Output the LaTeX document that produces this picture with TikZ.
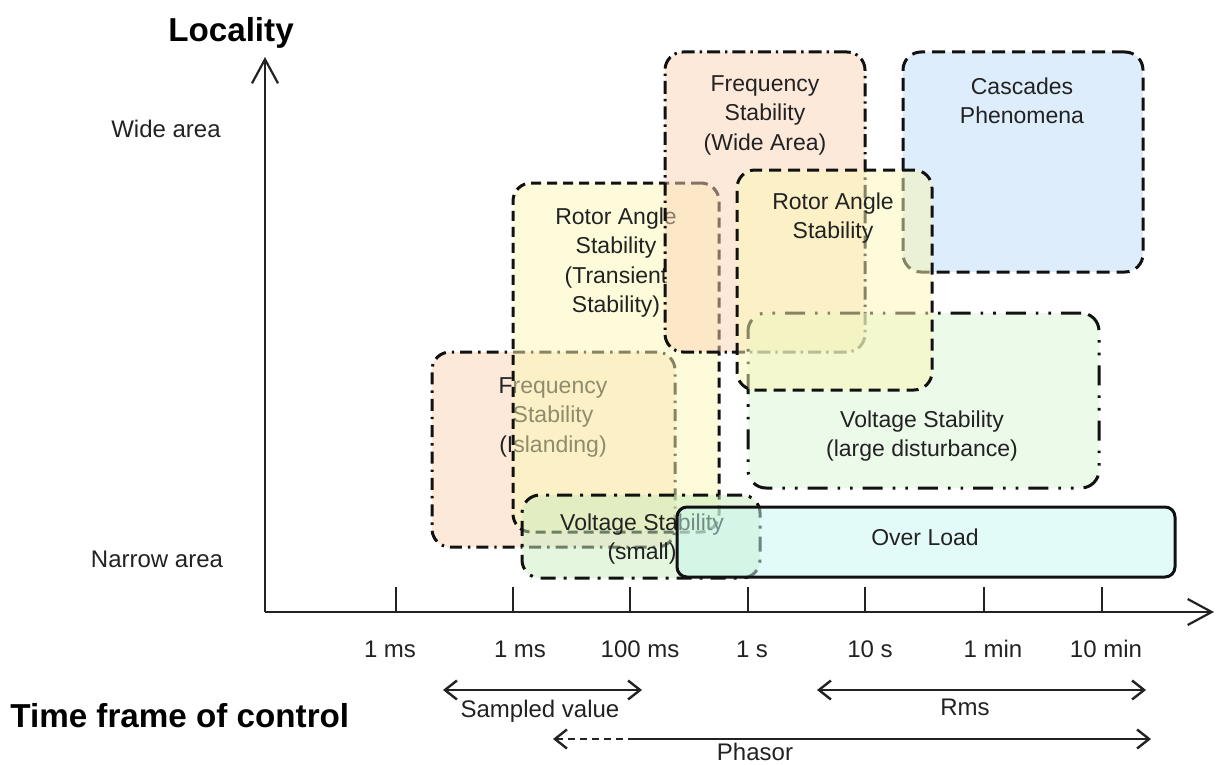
\documentclass[tikz,border=0pt]{standalone}
\usepackage{fontspec}
\setmainfont{Liberation Sans}
\usetikzlibrary{arrows.meta}

\definecolor{inkc}{HTML}{222222}
\definecolor{orangef}{HTML}{FBD3B5}
\definecolor{bluef}{HTML}{BBDBF9}
\definecolor{yellowf}{HTML}{FBF7B3}
\definecolor{greenlf}{HTML}{D9F5D5}
\definecolor{greensf}{HTML}{C9EDBD}
\definecolor{cyanf}{HTML}{C7F7F1}
\definecolor{edgec}{HTML}{111111}

\tikzset{
  region/.style={draw=edgec, line width=1.5pt, rounded corners=9pt,
    inner sep=0pt, outer sep=0pt, fill opacity=0.5, draw opacity=1},
  boxlabel/.style={anchor=north, inner sep=0pt, align=center, text=inkc,
    font=\fontsize{11.5pt}{14.8pt}\selectfont},
  axislabel/.style={anchor=base, inner sep=0pt, text=inkc,
    font=\fontsize{12pt}{14pt}\selectfont},
  title/.style={inner sep=0pt, text=black,
    font=\fontsize{16.6pt}{19pt}\selectfont\bfseries},
  axisline/.style={draw=inkc, line width=1.1pt},
  bigtip/.style={-{Straight Barb[length=12pt,width=13pt,line width=1.1pt]}},
  timearrow/.style={draw=inkc, line width=1.2pt},
  smalltip/.tip={Straight Barb[length=6pt,width=9.5pt,line width=1.2pt]},
}

\begin{document}
\begin{tikzpicture}[x=0.5pt, y=-0.5pt]
\useasboundingbox (0,0) rectangle (1220,765);

% ---------- axes ----------
\coordinate (O) at (265,612);
\coordinate (ytip) at (265,57);
\coordinate (xtip) at (1214,612);
\draw[axisline, bigtip] (O) -- (ytip);
\draw[axisline, bigtip] (O) -- (xtip);
\foreach \tx [count=\i] in {396,513,630,748,865,984,1102}
  \draw[axisline] (\tx,587) coordinate (tk\i) -- (\tx,612);

\node[title, anchor=base] (loc) at (231,42) {Locality};
\node[axislabel] (wide) at (166,137) {Wide area};
\node[axislabel] (narrow) at (157,567) {Narrow area};

\foreach \lx/\lt [count=\i] in {390/1 ms, 520/1 ms, 640/100 ms, 752/1 s,
    870/10 s, 993/1 min, 1106/10 min}
  \node[axislabel] (tl\i) at (\lx,657) {\lt};

% ---------- stability regions (drawn back to front) ----------
\node[region, fill=orangef, dash pattern=on 6pt off 3pt on 1.2pt off 3pt,
  minimum width=121.5pt, minimum height=97.5pt] (isl) at (553.5,449.5) {};
\node[boxlabel] (islT) at (553,377) {Frequency\\Stability\\(Islanding)};

\node[region, fill=yellowf, dash pattern=on 5pt off 3pt,
  minimum width=103pt, minimum height=174.5pt] (trans) at (616,357.5) {};
\node[boxlabel] (transT) at (616,207) {Rotor Angle\\Stability\\(Transient\\Stability)};

\node[region, fill=orangef, dash pattern=on 6.5pt off 2.5pt on 1.2pt off 2.5pt,
  minimum width=100pt, minimum height=150pt] (wa) at (765,202) {};
\node[boxlabel] (waT) at (765,75) {Frequency\\Stability\\(Wide Area)};

\node[region, fill=bluef, dash pattern=on 6.5pt off 3.5pt,
  minimum width=120pt, minimum height=110pt] (casc) at (1023,162) {};
\node[boxlabel] (cascT) at (1022,77) {Cascades\\Phenomena};

\node[region, fill=greenlf,
  dash pattern=on 10pt off 5pt on 1.3pt off 5pt on 1.3pt off 5pt,
  minimum width=175.5pt, minimum height=87.5pt] (vl) at (923.5,400.5) {};
\node[boxlabel] (vlT) at (922,410) {Voltage Stability\\(large disturbance)};

\node[region, fill=yellowf, dash pattern=on 6pt off 3.5pt,
  minimum width=97.5pt, minimum height=110pt] (ra) at (834.5,280) {};
\node[boxlabel] (raT) at (833,192) {Rotor Angle\\Stability};

\node[region, fill=greensf, dash pattern=on 7.5pt off 4pt on 1.5pt off 4pt,
  minimum width=119pt, minimum height=41.5pt] (vs) at (641,536.5) {};
\node[boxlabel] (vsT) at (642,513) {Voltage Stability\\(small)};

\node[region, fill=cyanf, rounded corners=5pt, solid,
  minimum width=249pt, minimum height=35pt] (ol) at (926,542) {};
\node[boxlabel] (olT) at (925,528) {Over Load};

% ---------- time frame of control ----------
\node[title, anchor=base west] (tfc) at (10,727) {Time frame of control};

\coordinate (sv1) at (443,690);
\coordinate (sv2) at (642,690);
\coordinate (rm1) at (817,690);
\coordinate (rm2) at (1146,690);
\coordinate (ph1) at (553,739);
\coordinate (phm) at (633,739);
\coordinate (ph2) at (1151,739);

\draw[timearrow, {smalltip}-{smalltip}] (sv1) -- (sv2);
\draw[timearrow, {smalltip}-{smalltip}] (rm1) -- (rm2);
\draw[timearrow, {smalltip}-, dash pattern=on 3.5pt off 2.5pt] (ph1) -- (phm);
\draw[timearrow, -{smalltip}] (phm) -- (ph2);

\node[axislabel] (svT) at (540,717) {Sampled value};
\node[axislabel] (rmT) at (965,715) {Rms};
\node[axislabel] (phT) at (755,760) {Phasor};
\end{tikzpicture}
\end{document}
